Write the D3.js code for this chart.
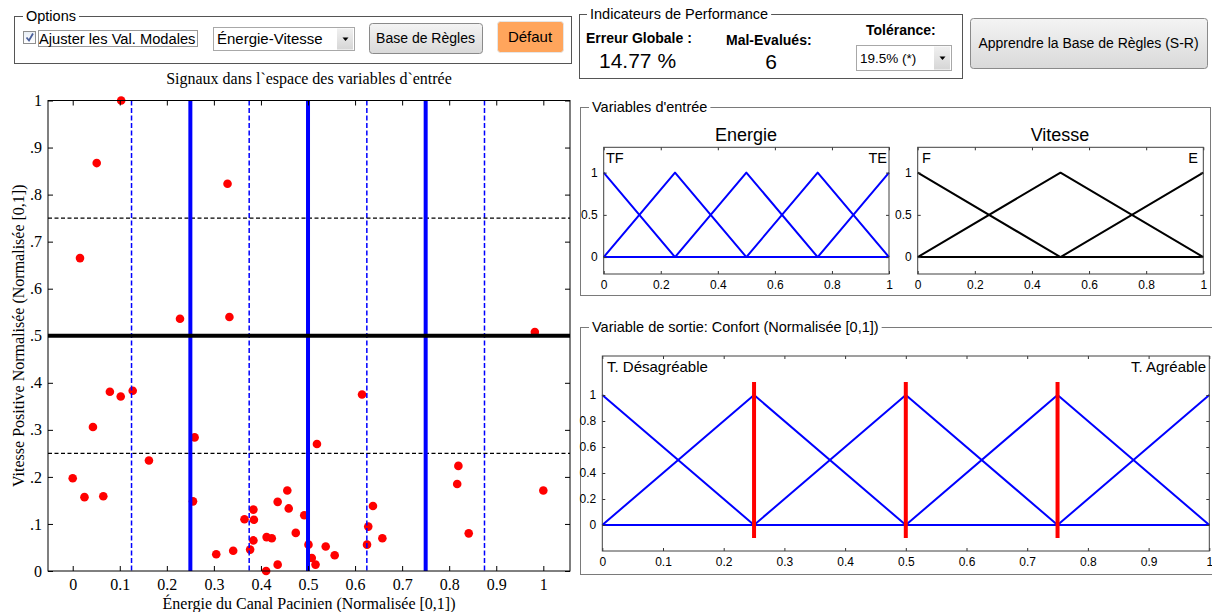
<!DOCTYPE html>
<html><head><meta charset="utf-8">
<script src="https://cdnjs.cloudflare.com/ajax/libs/d3/7.8.5/d3.min.js"></script>
<style>body{margin:0;background:#fff;overflow:hidden}svg{display:block}</style>
</head><body>
<svg id="c" width="1212" height="612"></svg>
<script>
// ---------------- DATA ----------------
const energie = [0.103,0.051,0.0155,0.228,0.329,0.333,0.982,
  0.0,0.025,0.065,0.043,0.079,0.102,0.1275,0.162,0.259,0.2556,0.305,0.341,0.365,0.377,0.384,0.385,0.384,0.411,0.412,0.423,0.4355,0.4355,0.456,0.459,0.474,
  0.492,0.501,0.508,0.516,0.519,0.5376,0.5567,0.6148,0.638,0.628,0.6254,0.658,0.8195,0.817,0.8415,1.0];
const vitesse = [1.0,0.867,0.665,0.536,0.823,0.540,0.508,
  0.197,0.157,0.159,0.306,0.381,0.371,0.383,0.235,0.284,0.148,0.0355,0.043,0.110,0.0455,0.1305,0.109,0.065,0.0,0.072,0.0695,0.0135,0.147,0.171,0.133,0.081,
  0.1185,0.056,0.0277,0.0136,0.270,0.052,0.0334,0.375,0.138,0.0944,0.056,0.0695,0.2234,0.185,0.080,0.171];
const xTicks = [0,0.1,0.2,0.3,0.4,0.5,0.6,0.7,0.8,0.9,1];
const xTickLabels = ["0","0.1","0.2","0.3","0.4","0.5","0.6","0.7","0.8","0.9","1"];
const yTicks = [0,0.1,0.2,0.3,0.4,0.5,0.6,0.7,0.8,0.9,1];
const yTickLabels = ["0",".1",".2",".3",".4",".5",".6",".7",".8",".9","1"];
const energieModal = [0.25,0.5,0.75];          // solid blue lines
const energieCross = [0.125,0.375,0.625,0.875]; // dashed blue lines
const vitesseModal = [0.5];                     // solid black line
const vitesseCross = [0.25,0.75];               // dashed black lines
const energieCenters = [0,0.25,0.5,0.75,1];
const vitesseCenters = [0,0.5,1];
const confortCenters = [0,0.25,0.5,0.75,1];
const confortOutputs = [0.25,0.5,0.75];
const mfXTicks = [0,0.2,0.4,0.6,0.8,1];
const mfYTicks = [0,0.5,1];
const outXTicks = [0,0.1,0.2,0.3,0.4,0.5,0.6,0.7,0.8,0.9,1];
const outYTicks = [0,0.2,0.4,0.6,0.8,1];

// ---------------- SETUP ----------------
const svg = d3.select("#c");
const SERIF = "'Liberation Serif','Times New Roman',serif";
const SANS = "'Liberation Sans',Arial,sans-serif";
const defs = svg.append("defs");
function grad(id, c1, c2){
  const g = defs.append("linearGradient").attr("id",id).attr("x1",0).attr("y1",0).attr("x2",0).attr("y2",1);
  g.append("stop").attr("offset","0%").attr("stop-color",c1);
  g.append("stop").attr("offset","100%").attr("stop-color",c2);
}
grad("btn","#f4f4f4","#d9d9d9");
grad("arr","#f0f0f0","#d6d6d6");
grad("chk","#e8eef6","#ffffff");

function text(x,y,s,opt={}){
  const t = svg.append("text").attr("x",x).attr("y",y).text(s)
    .attr("font-family",opt.family||SANS).attr("font-size",opt.size||14)
    .attr("fill",opt.fill||"#000").attr("text-anchor",opt.anchor||"start");
  if(opt.weight) t.attr("font-weight",opt.weight);
  return t;
}
function groupBox(x0,y0,x1,y1,title,tx,opts={}){
  const g = svg.append("g");
  g.append("rect").attr("x",x0+0.5).attr("y",y0+0.5).attr("width",x1-x0).attr("height",y1-y0)
    .attr("fill","none").attr("stroke",opts.stroke||"#555").attr("stroke-width",1);
  const t = text(tx, y0+5, title, {size:opts.size||14.5});
  const w = t.node().getComputedTextLength();
  g.append("rect").attr("x",tx-3).attr("y",y0-3).attr("width",w+6).attr("height",6).attr("fill","#fff");
  t.raise();
}
function button(x0,y0,x1,y1,label,opts={}){
  svg.append("rect").attr("x",x0+0.5).attr("y",y0+0.5).attr("width",x1-x0).attr("height",y1-y0)
    .attr("rx",3).attr("fill",opts.fill||"url(#btn)").attr("stroke",opts.stroke||"#8a8a8a");
  text((x0+x1)/2, (y0+y1)/2+5, label, {anchor:"middle", size:opts.size||14});
}
function dropdown(x0,y0,x1,y1,label,size){
  svg.append("rect").attr("x",x0+0.5).attr("y",y0+0.5).attr("width",x1-x0).attr("height",y1-y0)
    .attr("fill","#fff").attr("stroke","#a8a8a8");
  svg.append("rect").attr("x",x1-17).attr("y",y0+1.5).attr("width",16).attr("height",y1-y0-2)
    .attr("fill","url(#arr)");
  const cx = x1-8.5, cy=(y0+y1)/2+1;
  svg.append("path").attr("d",`M${cx-3},${cy-2}L${cx+3},${cy-2}L${cx},${cy+1.5}Z`).attr("fill","#000");
  text(x0+4,(y0+y1)/2+5.5,label,{size:size});
}

// ---------------- TOP UI ----------------
groupBox(14,16,571,63,"Options",26);
svg.append("rect").attr("x",23.5).attr("y",31.5).attr("width",12).attr("height",12)
  .attr("fill","url(#chk)").attr("stroke","#8e8f8f");
svg.append("path").attr("d","M26.5,37.5 L29,40.5 L33,33.5").attr("fill","none").attr("stroke","#4a5f9a").attr("stroke-width",1.8);
text(39,44,"Ajuster les Val. Modales",{size:14.7});
svg.append("rect").attr("x",38.5).attr("y",30.5).attr("width",159).attr("height",16)
  .attr("fill","none").attr("stroke","#333").attr("stroke-dasharray","1,1");
dropdown(213,27,354,50,"Énergie-Vitesse",15);
button(369,23,482,53,"Base de Règles",{size:14});
button(497,21,563,52,"Défaut",{fill:"#ffa55c",stroke:"#e6e6e6",size:15});

groupBox(579,14,962,78,"Indicateurs de Performance",590);
text(586,43,"Erreur Globale :",{size:14,weight:"bold"});
text(599,68,"14.77 %",{size:21});
text(726,45,"Mal-Evalués:",{size:14,weight:"bold"});
text(771,69,"6",{size:21,anchor:"middle"});
text(866,35,"Tolérance:",{size:14,weight:"bold"});
dropdown(856,45,951,70,"19.5% (*)",13.5);
button(970,18,1207,68,"Apprendre la Base de Règles (S-R)",{size:14});

// ---------------- MAIN SCATTER ----------------
const X0=48, X1=570, Y0=100.5, Y1=571;
const sx = d3.scaleLinear().domain([-0.0525,1.0567]).range([X0,X1]);
const sy = d3.scaleLinear().domain([0,1]).range([Y1,Y0]);
const main = svg.append("g");
main.append("rect").attr("x",X0).attr("y",Y0).attr("width",X1-X0).attr("height",Y1-Y0).attr("fill","#fff");

// points
main.append("g").selectAll("circle").data(energie.map((e,i)=>[e,vitesse[i]])).join("circle")
  .attr("cx",d=>sx(d[0])).attr("cy",d=>sy(d[1])).attr("r",4.3).attr("fill","#ff0000");

// grid lines
main.append("g").selectAll("line").data(energieCross).join("line")
  .attr("x1",d=>sx(d)).attr("x2",d=>sx(d)).attr("y1",Y0).attr("y2",Y1)
  .attr("stroke","#0000ff").attr("stroke-width",1.5).attr("stroke-dasharray","5,2.5");
main.append("g").selectAll("line").data(vitesseCross).join("line")
  .attr("y1",d=>sy(d)).attr("y2",d=>sy(d)).attr("x1",X0).attr("x2",X1)
  .attr("stroke","#000").attr("stroke-width",1.4).attr("stroke-dasharray","4,2.5");
main.append("g").selectAll("line").data(energieModal).join("line")
  .attr("x1",d=>sx(d)).attr("x2",d=>sx(d)).attr("y1",Y0).attr("y2",Y1)
  .attr("stroke","#0000ff").attr("stroke-width",4);
main.append("g").selectAll("line").data(vitesseModal).join("line")
  .attr("y1",d=>sy(d)).attr("y2",d=>sy(d)).attr("x1",X0).attr("x2",X1)
  .attr("stroke","#000").attr("stroke-width",4);

// axes
function styleAxis(g, fam, size){
  g.selectAll("text").attr("font-family",fam).attr("font-size",size).attr("fill","#000");
  g.selectAll(".domain").remove();
  g.selectAll(".tick line").attr("stroke","#000");
}
main.append("g").attr("transform",`translate(0,${Y1})`)
  .call(d3.axisBottom(sx).tickValues(xTicks).tickFormat((d,i)=>xTickLabels[i]).tickSize(-5).tickPadding(8))
  .call(g=>styleAxis(g,SERIF,16));
main.append("g").attr("transform",`translate(0,${Y0})`)
  .call(d3.axisTop(sx).tickValues(xTicks).tickFormat("").tickSize(-5))
  .call(g=>styleAxis(g,SERIF,16));
main.append("g").attr("transform",`translate(${X0},0)`)
  .call(d3.axisLeft(sy).tickValues(yTicks).tickFormat((d,i)=>yTickLabels[i]).tickSize(-5).tickPadding(6))
  .call(g=>styleAxis(g,SERIF,16));
main.append("g").attr("transform",`translate(${X1},0)`)
  .call(d3.axisRight(sy).tickValues(yTicks).tickFormat("").tickSize(-5))
  .call(g=>styleAxis(g,SERIF,16));
main.append("rect").attr("x",X0).attr("y",Y0).attr("width",X1-X0).attr("height",Y1-Y0)
  .attr("fill","none").attr("stroke","#000").attr("stroke-width",1);

text((X0+X1)/2,84,"Signaux dans l`espace des variables d`entrée",{family:SERIF,size:16,anchor:"middle"});
text((X0+X1)/2,609,"Énergie du Canal Pacinien (Normalisée [0,1])",{family:SERIF,size:16,anchor:"middle"});
svg.append("text").attr("transform",`translate(24,${(Y0+Y1)/2}) rotate(-90)`)
  .attr("text-anchor","middle").attr("font-family",SERIF).attr("font-size",16)
  .text("Vitesse Positive Normalisée (Normalisée [0,1])");

// ---------------- MF PANELS ----------------
function mfPoints(c,w){
  const br = Array.from(new Set([0,c-w,c,c+w,1].map(v=>Math.max(0,Math.min(1,v))))).sort((a,b)=>a-b);
  return br.map(x=>[x,Math.max(0,1-Math.abs(x-c)/w)]);
}
function mfAxes(x0,x1,y0,y1,centers,w,color,xt,yt,xfmt,yfmt){
  const g = svg.append("g");
  const x = d3.scaleLinear().domain([0,1]).range([x0,x1]);
  const y = d3.scaleLinear().domain([-0.2,1.3]).range([y1,y0]);
  g.append("rect").attr("x",x0).attr("y",y0).attr("width",x1-x0).attr("height",y1-y0).attr("fill","#fff");
  const line = d3.line().x(d=>x(d[0])).y(d=>y(d[1]));
  g.append("g").selectAll("path").data(centers).join("path")
    .attr("d",c=>line(mfPoints(c,w))).attr("fill","none").attr("stroke",color).attr("stroke-width",2)
    .attr("stroke-linejoin","round");
  const st = gg=>{gg.selectAll(".domain").remove();gg.selectAll("text").attr("font-family",SANS).attr("font-size",12).attr("fill","#000");gg.selectAll(".tick line").attr("stroke","#333");};
  g.append("g").attr("transform",`translate(0,${y1})`).call(d3.axisBottom(x).tickValues(xt).tickFormat(xfmt).tickSize(-3).tickPadding(6)).call(st);
  g.append("g").attr("transform",`translate(0,${y0})`).call(d3.axisTop(x).tickValues(xt).tickFormat("").tickSize(-3)).call(st);
  g.append("g").attr("transform",`translate(${x0},0)`).call(d3.axisLeft(y).tickValues(yt).tickFormat(yfmt).tickSize(-3).tickPadding(6)).call(st);
  g.append("g").attr("transform",`translate(${x1},0)`).call(d3.axisRight(y).tickValues(yt).tickFormat("").tickSize(-3)).call(st);
  g.append("rect").attr("x",x0).attr("y",y0).attr("width",x1-x0).attr("height",y1-y0)
    .attr("fill","none").attr("stroke","#404040").attr("stroke-width",1);
  return {g,x,y};
}
const fmt = d3.format("~g");

groupBox(580,107,1210,295,"Variables d'entrée",592,{stroke:"#7a7a7a"});
const pe = mfAxes(603.7,889,147.3,274,energieCenters,0.25,"#0000ff",mfXTicks,mfYTicks,fmt,fmt);
text(746,141,"Energie",{size:18,anchor:"middle"});
text(606,163,"TF",{size:14.5});
text(887,163,"TE",{size:14.5,anchor:"end"});
const pv = mfAxes(917.7,1203.3,147.3,274,vitesseCenters,0.5,"#000",mfXTicks,mfYTicks,fmt,fmt);
text(1060,141,"Vitesse",{size:18,anchor:"middle"});
text(922,163,"F",{size:14.5});
text(1198,163,"E",{size:14.5,anchor:"end"});

groupBox(580,327,1213,574,"Variable de sortie: Confort (Normalisée [0,1])",592,{stroke:"#7a7a7a"});
const po = mfAxes(602.3,1209.3,356,551,confortCenters,0.25,"#0000ff",outXTicks,outYTicks,fmt,fmt);
po.g.append("g").selectAll("line").data(confortOutputs).join("line")
  .attr("x1",d=>po.x(d)).attr("x2",d=>po.x(d)).attr("y1",po.y(1.1)).attr("y2",po.y(-0.1))
  .attr("stroke","#ff0000").attr("stroke-width",4);
text(607,372,"T. Désagréable",{size:15});
text(1206,372,"T. Agréable",{size:15,anchor:"end"});
</script>
</body></html>
